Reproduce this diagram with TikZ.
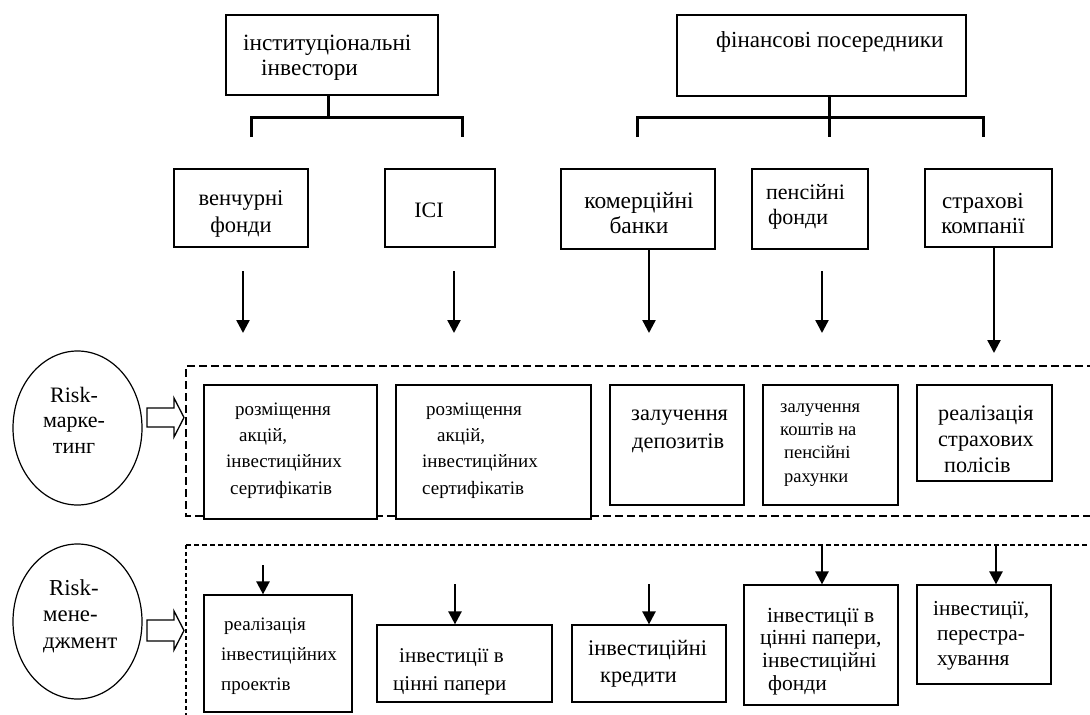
\documentclass[tikz,border=0pt]{standalone}
\usepackage{fontspec}
\setmainfont{Liberation Serif}
\usetikzlibrary{arrows.meta,calc,shapes.geometric}
\begin{document}
\begin{tikzpicture}[x=1pt,y=-1pt,
  bx/.style={draw, line width=1.2pt, fill=white, inner sep=0pt},
  txt/.style={inner sep=0pt, anchor=north west, align=left},
  ctxt/.style={inner sep=0pt, anchor=north, align=center},
  tree/.style={line width=3pt},
  darr/.style={line width=2.4pt, -{Triangle[length=13pt,width=13pt]}},
  frameA/.style={line width=2pt, dash pattern=on 8pt off 4pt},
  frameB/.style={line width=1.6pt, dash pattern=on 5pt off 3pt},
  frameC/.style={line width=2pt, dash pattern=on 4pt off 3pt},
  hollow/.style={draw, line width=1.3pt, fill=white},
  ell/.style={draw, ellipse, line width=1.2pt, inner sep=0pt, minimum width=129pt, minimum height=154pt}
]
\useasboundingbox (0,0) rectangle (1090,715);
\fill[white] (0,0) rectangle (1090,715);

% dashed frames
\draw[frameA] (1095,366) -- (186,366) -- (186,516) -- (1095,516);
\draw[frameB] (1095,545) -- (186,545);
\draw[frameC] (186,545) -- (186,720);

% top boxes
\node[bx, minimum width=212pt, minimum height=80pt] (t1) at (332,55) {};
\node[bx, minimum width=289pt, minimum height=81pt] (t2) at (821.5,55.5) {};
\node[txt, font=\fontsize{23.3}{25}\selectfont] (t1t) at (243,32.5) {\strut інституціональні\\\hspace*{18pt}інвестори};
\node[txt, font=\fontsize{23}{25}\selectfont] (t2t) at (716,29.5) {\strut фінансові посередники};

% second row
\node[bx, minimum width=134pt, minimum height=78pt] (v) at (241,208) {};
\node[bx, minimum width=110pt, minimum height=78pt] (ici) at (440,208) {};
\node[bx, minimum width=154pt, minimum height=80pt] (kb) at (638,209) {};
\node[bx, minimum width=116pt, minimum height=80pt] (pf) at (810,209) {};
\node[bx, minimum width=127pt, minimum height=78pt] (sk) at (988.5,208) {};
\node[ctxt, font=\fontsize{22.5}{27}\selectfont] (vt) at (241,186.1) {\strut венчурні\\фонди};
\node[ctxt, font=\fontsize{22}{25}\selectfont] (icit) at (429,199.5) {\strut ІСІ};
\node[ctxt, font=\fontsize{23.5}{25}\selectfont] (kbt) at (639,190.5) {\strut комерційні\\банки};
\node[txt, font=\fontsize{22}{25}\selectfont] (pft) at (766,181.5) {\strut пенсійні\\\hspace*{2pt}фонди};
\node[ctxt, font=\fontsize{23}{25}\selectfont] (skt) at (983,190.5) {\strut страхові\\компанії};

% tree connectors
\coordinate (t1j) at (328,117);
\coordinate (t2j) at (829,117);
\draw[tree] (t1j |- t1.south) -- (t1j);
\draw[tree] (251,137) -- (251,117) -- (462,117) -- (462,137);
\draw[tree] (t2j |- t2.south) -- (829,137);
\draw[tree] (637,137) -- (637,117) -- (983,117) -- (983,137);

% arrows row 2 -> frame
\coordinate (a1s) at (243,271); \coordinate (a1e) at (243,333);
\coordinate (a2s) at (454,271); \coordinate (a2e) at (454,333);
\coordinate (a3e) at (649,333);
\coordinate (a4s) at (822,271); \coordinate (a4e) at (822,333);
\coordinate (a5e) at (994,353);
\draw[darr] (a1s) -- (a1e);
\draw[darr] (a2s) -- (a2e);
\draw[darr] (a3e |- kb.south) -- (a3e);
\draw[darr] (a4s) -- (a4e);
\draw[darr] (a5e |- sk.south) -- (a5e);

% ellipses
\node[ell] (e1) at (77.5,428) {};
\node[ell, minimum height=155pt] (e2) at (77.5,621.5) {};
\node[ctxt, font=\fontsize{22}{25.5}\selectfont] (e1t) at (74,384.2) {\strut Risk-\\марке-\\тинг};
\node[txt, font=\fontsize{22.8}{26.5}\selectfont] (e2t) at (43,576.5) {\strut\hspace*{6pt}Risk-\\мене-\\джмент};

% hollow arrows
\draw[hollow] (147,408) -- (174,408) -- (174,398) -- (184,417.5) -- (174,437) -- (174,427) -- (147,427) -- cycle;
\draw[hollow] (147,620) -- (174,620) -- (174,611) -- (184,630.5) -- (174,650) -- (174,641) -- (147,641) -- cycle;

% marketing row
\node[bx, minimum width=173pt, minimum height=134pt] (m1) at (290.5,452) {};
\node[bx, minimum width=195pt, minimum height=134pt] (m2) at (493.5,452) {};
\node[bx, minimum width=134pt, minimum height=120pt] (m3) at (677,445) {};
\node[bx, minimum width=135pt, minimum height=120pt] (m4) at (830.5,445) {};
\node[bx, minimum width=135pt, minimum height=96pt] (m5) at (984.5,433) {};
\node[txt, font=\fontsize{19}{26.3}\selectfont] (m1t) at (226,396.6) {\strut\hspace*{9pt}розміщення\\\hspace*{13pt}акцій,\\інвестиційних\\\hspace*{4pt}сертифікатів};
\node[txt, font=\fontsize{19}{26.3}\selectfont] (m2t) at (422,396.6) {\strut\hspace*{4pt}розміщення\\\hspace*{15pt}акцій,\\інвестиційних\\сертифікатів};
\node[txt, font=\fontsize{22.4}{28}\selectfont] (m3t) at (631,400.4) {\strut залучення\\\hspace*{1pt}депозитів};
\node[txt, font=\fontsize{18.5}{23.3}\selectfont] (m4t) at (780,395.7) {\strut залучення\\коштів на\\\hspace*{4pt}пенсійні\\\hspace*{4pt}рахунки};
\node[txt, font=\fontsize{22.2}{26}\selectfont] (m5t) at (938,401.8) {\strut реалізація\\страхових\\\hspace*{6pt}полісів};

% management row
\node[bx, minimum width=148pt, minimum height=117pt] (r1) at (278,653.5) {};
\node[bx, minimum width=175pt, minimum height=77pt] (r2) at (464.5,663.5) {};
\node[bx, minimum width=154pt, minimum height=77pt] (r3) at (649,663.5) {};
\node[bx, minimum width=154pt, minimum height=120pt] (r4) at (821,645) {};
\node[bx, minimum width=134pt, minimum height=99pt] (r5) at (984,634.5) {};
\node[txt, font=\fontsize{19}{30}\selectfont] (r1t) at (221,609) {\strut\hspace*{3pt}реалізація\\інвестиційних\\проектів};
\node[txt, font=\fontsize{21}{28}\selectfont] (r2t) at (393,642.4) {\strut\hspace*{6pt}інвестиції в\\цінні папери};
\node[txt, font=\fontsize{22.3}{27}\selectfont] (r3t) at (588,636.1) {\strut інвестиційні\\\hspace*{12pt}кредити};
\node[txt, font=\fontsize{21.5}{22.7}\selectfont] (r4t) at (760,606.1) {\strut\hspace*{7pt}інвестиції в\\цінні папери,\\\hspace*{2pt}інвестиційні\\\hspace*{8pt}фонди};
\node[txt, font=\fontsize{21.3}{25}\selectfont] (r5t) at (933,597.5) {\strut інвестиції,\\\hspace*{4pt}перестра-\\\hspace*{4pt}хування};

% arrows into management boxes
\coordinate (b1s) at (263,565);
\coordinate (b2s) at (455,584);
\coordinate (b3s) at (649,584);
\coordinate (b4s) at (822,545);
\coordinate (b5s) at (996,545);
\draw[darr] (b1s) -- (b1s |- r1.north);
\draw[darr] (b2s) -- (b2s |- r2.north);
\draw[darr] (b3s) -- (b3s |- r3.north);
\draw[darr] (b4s) -- (b4s |- r4.north);
\draw[darr] (b5s) -- (b5s |- r5.north);
\end{tikzpicture}
\end{document}
